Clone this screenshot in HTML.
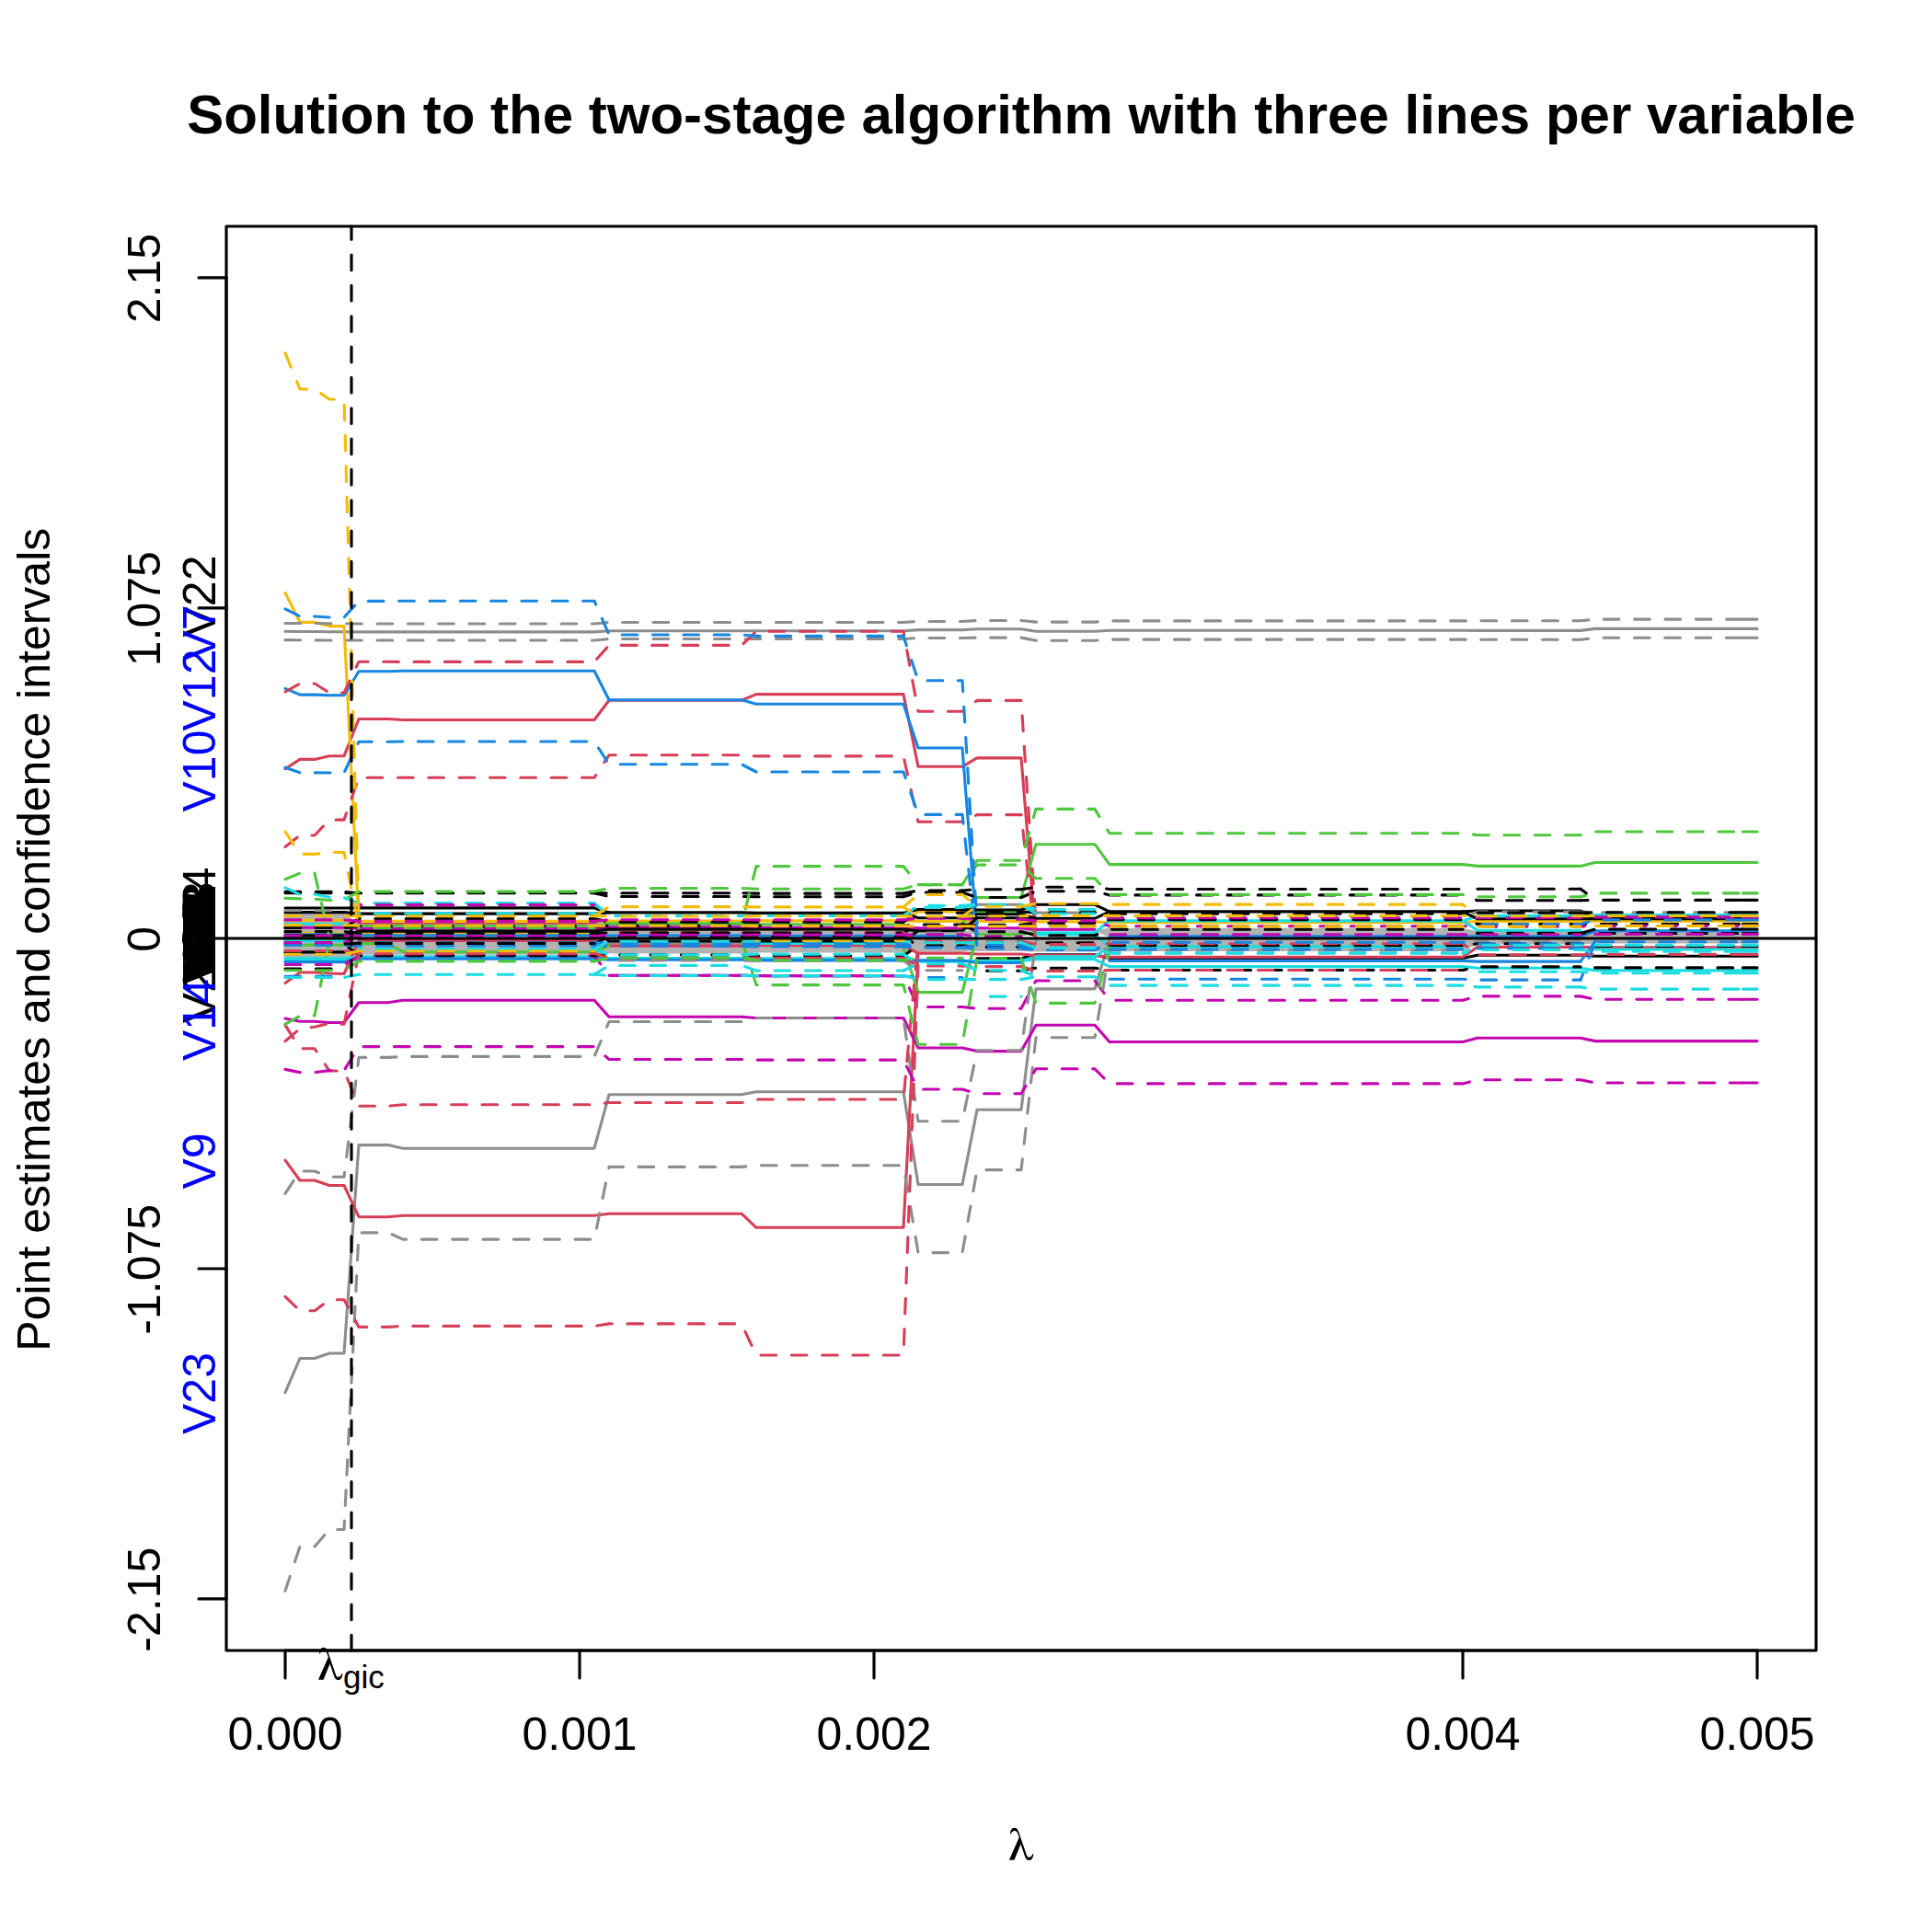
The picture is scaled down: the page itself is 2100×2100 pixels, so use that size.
<!DOCTYPE html>
<html><head><meta charset="utf-8"><title>Solution path</title>
<style>
html,body{margin:0;padding:0;background:#fff;}
body{width:2100px;height:2100px;overflow:hidden;font-family:"Liberation Sans",sans-serif;}
svg{display:block}
text{font-family:"Liberation Sans",sans-serif;font-size:50px;fill:#000}
.t{font-weight:bold;font-size:60px}
.L{fill:none;stroke-width:3.125;stroke-linecap:round;stroke-linejoin:round}
.D{stroke-dasharray:16.67 16.67}
.ax{fill:none;stroke:#000;stroke-width:3.125;stroke-linecap:round;stroke-linejoin:round}
.bl{fill:#0000FF}
</style></head><body>
<svg width="2100" height="2100" viewBox="0 0 2100 2100">
<rect x="0" y="0" width="2100" height="2100" fill="#fff"/>
<text class="t" x="1110" y="144.9" text-anchor="middle">Solution to the two-stage algorithm with three lines per variable</text>
<defs><clipPath id="cp"><rect x="246" y="246" width="1728" height="1548"/></clipPath></defs>
<g clip-path="url(#cp)">
<polygon fill="#B2B2B2" points="308.4,1019 374,1019 390,1022.7 646,1022.7 662,1023.7 806,1023.7 822,1024 982,1024 998,1021.5 1046,1021.5 1062,1021.5 1110,1021.5 1126,1021 1190,1021 1206,1021 1590,1021 1606,1021 1718,1021 1734,1021 1911.6,1021 1911.6,1025.5 1734,1025.5 1718,1026.5 1606,1026.5 1590,1034 1206,1034 1190,1034.5 1126,1034.5 1110,1034 1062,1034 1046,1034.5 998,1034.5 982,1035.6 822,1035.6 806,1036.6 662,1036.6 646,1037.8 390,1037.8 374,1041 308.4,1041"/>
<polygon fill="#B2B2B2" points="308.4,993 374,993 390,1003.4 646,1003.4 662,1011 806,1011 822,1012 982,1012 998,1012 1046,1012 1062,1011 1110,1011 1126,1011 1190,1011 1206,1008.7 1590,1008.7 1606,1012 1718,1012 1734,1012.5 1911.6,1012.5 1911.6,1019 1734,1019 1718,1019 1606,1019 1590,1019 1206,1019 1190,1012 1126,1012 1110,1015 1062,1015 1046,1016 998,1016 982,1016 822,1016 806,1015 662,1015 646,1005 390,1005 374,1020 308.4,1020"/>
<polyline class="L" stroke="#8D8D8D" points="390,1004.2 646,1004.2 662,1005.9 806,1005.9"/>
<polyline class="L" stroke="#8D8D8D" points="662,1025.4 806,1025.4"/>
<polyline class="L" stroke="#8D8D8D" points="1062,983.3 1110,983.3 1126,992.1 1190,992.1"/>
<polyline class="L" stroke="#8D8D8D" points="1126,1041.6 1190,1041.6"/>
<polyline class="L" stroke="#8D8D8D" points="310,686.3 326,686.5 342,686.5 358,686.7 374,686.7 390,686.9 646,686.9 662,685.8 982,685.8 998,684.6 1046,684.6 1062,683.8 1110,683.8 1126,686.3 1190,686.3 1206,685.3 1590,685.3 1606,685.4 1718,685.4 1734,683.4 1910,683.4"/>
<polyline class="L" stroke="#8D8D8D" points="310,1513.7 326,1476.5 342,1476.5 358,1471 374,1471 390,1244.6 422,1244.6 438,1248.2 646,1248.2 662,1189.8 806,1189.8 822,1186.7 982,1186.7 998,1287.5 1046,1287.5 1062,1206.3 1110,1206.3 1126,1074.9 1190,1074.9 1206,1021"/>
<polyline class="L" stroke="#000000" points="1062,1041.8 1110,1041.8 1126,1037.7 1190,1037.7 1206,1041.5 1590,1041.5 1606,1038.2 1718,1038.2 1734,1039.3 1910,1039.3"/>
<polyline class="L" stroke="#D73E58" points="390,1002.9 646,1002.9"/>
<polyline class="L" stroke="#D73E58" points="390,1022.5 646,1022.5 662,1028.3 806,1028.3 822,1027.8 982,1027.8 998,1036.1 1046,1036.1 1062,1037 1110,1037 1126,1038.6 1190,1038.6 1206,1040.2 1590,1040.2 1606,1029.4 1718,1029.4 1734,1029.8 1910,1029.8"/>
<polyline class="L" stroke="#D73E58" points="310,835.7 326,825.4 342,825.4 358,821.7 374,821.7 390,781.5 422,781.5 438,782.5 646,782.5 662,761.2 806,761.2 822,754.6 982,754.6 998,833.3 1046,833.3 1062,823.9 1110,823.9 1126,1019.6"/>
<polyline class="L" stroke="#D73E58" points="310,1261.2 326,1283 342,1283 358,1288.5 374,1288.5 390,1322.7 422,1322.7 438,1321.2 646,1321.2 662,1319.2 806,1319.2 822,1334.3 982,1334.3 998,1036.1"/>
<polyline class="L" stroke="#D73E58" points="310,1068.5 326,1057 342,1057 358,1058 374,1058.5 390,1022.5"/>
<polyline class="L" stroke="#F3BC09" points="310,1014.4 374,1014.4 390,1014.5 646,1014.5 662,1001"/>
<polyline class="L" stroke="#F3BC09" points="982,1000.9 998,991 1046,991 1062,1001.4"/>
<polyline class="L" stroke="#F3BC09" points="310,1000.4 374,1000.4 390,1001.4 646,1001.4 662,1001 806,1001 822,1000.9 982,1000.9 998,1001.4 1110,1001.4 1126,1001.9 1190,1001.9 1206,1002.8 1590,1002.8 1606,1001.4 1718,1001.4 1734,1001.2 1910,1001.2"/>
<polyline class="L" stroke="#F3BC09" points="310,644.3 326,676.4 342,676.4 358,680.6 374,680.6 390,1001.4"/>
<polyline class="L" stroke="#4EC73D" points="310,1027.2 374,1027.2"/>
<polyline class="L" stroke="#4EC73D" points="390,1006.8 646,1006.8 662,1003.7 806,1003.7 822,1004.7 982,1004.7"/>
<polyline class="L" stroke="#4EC73D" points="1062,991 1110,991"/>
<polyline class="L" stroke="#4EC73D" points="1046,1004.7 1062,975.5 1110,975.5 1126,917.7 1190,917.7 1206,939.6 1590,939.6 1606,941.4 1718,941.4 1734,937.5 1910,937.5"/>
<polyline class="L" stroke="#4EC73D" points="982,1030 998,1078.6 1046,1078.6 1062,1015.9 1110,1015.9 1126,1013"/>
<polyline class="L" stroke="#4EC73D" points="390,1025.6 422,1025.6 438,1034.7 646,1034.7 662,1028"/>
<polyline class="L" stroke="#C306B0" points="310,1008.2 374,1008.2 390,1009.5 646,1009.5 662,1008 806,1008 822,1008.2 982,1008.2 998,1008.7 1046,1008.7 1062,1008.9 1110,1008.9 1126,1010.2 1190,1010.2"/>
<polyline class="L" stroke="#C306B0" points="310,1107 326,1110.2 342,1110.2 358,1111.5 374,1111.5 390,1089.8 422,1089.8 438,1087.3 646,1087.3 662,1105.3 806,1105.3 822,1106.5 982,1106.5 998,1139 1046,1139 1062,1142.6 1110,1142.6 1126,1114.2 1190,1114.2 1206,1132.5 1590,1132.5 1606,1128.3 1718,1128.3 1734,1131.6 1910,1131.6"/>
<polyline class="L" stroke="#1BDCE0" points="310,1004.3 374,1004.3"/>
<polyline class="L" stroke="#1BDCE0" points="310,1022.9 374,1022.9"/>
<polyline class="L" stroke="#1BDCE0" points="310,1043.9 374,1043.9 390,1039.9"/>
<polyline class="L" stroke="#1BDCE0" points="822,1025.5 982,1025.5"/>
<polyline class="L" stroke="#1BDCE0" points="1126,1013.9 1190,1013.9 1206,1000.9"/>
<polyline class="L" stroke="#1BDCE0" points="1126,1015.9 1190,1015.9 1206,1028.9"/>
<polyline class="L" stroke="#1BDCE0" points="1110,1044.4 1126,1039.9 1190,1039.9 1206,1028.9 1590,1028.9"/>
<polyline class="L" stroke="#1BDCE0" points="1590,1000.9 1606,1011.3 1718,1011.3"/>
<polyline class="L" stroke="#1BDCE0" points="1190,1013.9 1206,1000.9 1590,1000.9 1606,995.4 1718,995.4 1734,994.5 1910,994.5"/>
<polyline class="L" stroke="#1BDCE0" points="310,1041.9 374,1041.9 390,1039.9 646,1039.9 662,1041.5 806,1041.5 822,1041.8 982,1041.8 998,1045.1 1046,1045.1 1062,1044.4 1110,1044.4 1126,1042.8 1190,1042.8 1206,1050.6 1590,1050.6 1606,1052.2 1718,1052.2 1734,1054.9 1910,1054.9"/>
<polyline class="L" stroke="#1BDCE0" points="1734,1032 1910,1032"/>
<polyline class="L" stroke="#1686E1" points="310,1015.7 374,1015.7 390,1016.7 806,1016.7 822,1017.2 982,1017.2 998,1017.5 1046,1017.5"/>
<polyline class="L" stroke="#1686E1" points="310,1045.6 374,1045.6 390,1042.1 646,1042.1 662,1043.2 806,1043.2 822,1043.9 1046,1043.9 1062,1046.5 1110,1046.5"/>
<polyline class="L" stroke="#1686E1" points="1206,1044.4 1590,1044.4 1606,1045.1 1718,1045.1"/>
<polyline class="L" stroke="#1686E1" points="1206,1017.7 1590,1017.7 1606,1017.8 1718,1017.8 1734,1011.7 1910,1011.7"/>
<polyline class="L" stroke="#1686E1" points="310,748.4 326,755.1 342,755.1 358,755.8 374,755.8 390,729.7 422,729.7 438,729.3 646,729.3 662,760.8 806,760.8 822,765.3 982,765.3 998,813 1046,813 1062,1016"/>
<polyline class="L" stroke="#1686E1" points="1718,1045.1 1734,1022.8"/>
<polyline class="L" stroke="#000000" points="310,1034.9 374,1034.9"/>
<polyline class="L" stroke="#000000" points="310,987 374,987 390,986.9 646,986.9 662,991.9"/>
<polyline class="L" stroke="#000000" points="646,1012.1 662,1023 806,1023 822,1022.9 982,1022.9 998,1011.8"/>
<polyline class="L" stroke="#000000" points="310,1017 374,1017 390,1012.1 646,1012.1 662,1010.1 806,1010.1 822,1010.2 982,1010.2 998,1011.8 1046,1011.8 1062,997.8"/>
<polyline class="L" stroke="#000000" points="1046,997.8 1062,993.7 1110,993.7 1126,998.3"/>
<polyline class="L" stroke="#000000" points="310,991.6 374,991.6 390,993.1 646,993.1 662,991.9 806,991.9 822,992.4 982,992.4 998,988.5 1046,988.5 1062,989 1110,989 1126,983.3 1190,983.3 1206,990.9"/>
<polyline class="L" stroke="#000000" points="982,992.4 998,997.8 1110,997.8 1126,998.3 1190,998.3 1206,990.9 1590,990.9 1606,990 1718,990 1734,998.6"/>
<polyline class="L" stroke="#000000" points="1590,990.9 1606,998.8 1718,998.8 1734,998.6 1910,998.6"/>
<polyline class="L D" stroke="#D73E58" stroke-dashoffset="21.6" points="662,1013.6 806,1013.6"/>
<polyline class="L D" stroke="#D73E58" stroke-dashoffset="32.2" points="806,1013.6 822,1013.7 982,1013.7"/>
<polyline class="L" stroke="#C306B0" points="662,1060.3 806,1060.3 822,1060.6 982,1060.6"/>
<polyline class="L" stroke="#C306B0" points="1894.3,1086.2 1910,1086.2"/>
<polyline class="L D" stroke="#C306B0" points="310,1048.5 374,1048.5 390,1038.8 646,1038.8 662,1060.2 806,1060.2 822,1060.6 982,1060.6 998,1094.5 1046,1094.5 1062,1096.2 1110,1096.2 1126,1066 1190,1066 1206,1087.3 1590,1087.3 1606,1082.9 1718,1082.9 1734,1086.2 1894,1086.2"/>
<polyline class="L D" stroke="#8D8D8D" points="310,989.8 374,989.8"/>
<polyline class="L D" stroke="#8D8D8D" stroke-dashoffset="22.1" points="662,1044 806,1044"/>
<polyline class="L D" stroke="#8D8D8D" stroke-dashoffset="29.7" points="806,1044 822,1044.3 982,1044.3"/>
<polyline class="L D" stroke="#8D8D8D" stroke-dashoffset="5.3" points="982,1044.3 998,1054.7 1046,1054.7"/>
<polyline class="L D" stroke="#8D8D8D" stroke-dashoffset="24.6" points="998,1014 1046,1014"/>
<polyline class="L D" stroke="#8D8D8D" stroke-dashoffset="16.7" points="1126,1028.3 1190,1028.3"/>
<polyline class="L D" stroke="#8D8D8D" stroke-dashoffset="21.7" points="1190,1028.3 1206,1033 1590,1033"/>
<polyline class="L D" stroke="#8D8D8D" stroke-dashoffset="20.1" points="1590,1033 1606,1023.2 1718,1023.2"/>
<polyline class="L D" stroke="#8D8D8D" stroke-dashoffset="3.5" points="1206,997 1590,997"/>
<polyline class="L D" stroke="#8D8D8D" stroke-dashoffset="21.8" points="1590,997 1606,991.1 1718,991.1"/>
<polyline class="L" stroke="#8D8D8D" points="1894.3,991.7 1910,991.7"/>
<polyline class="L D" stroke="#8D8D8D" stroke-dashoffset="9.7" points="1718,991.1 1734,991.7 1894,991.7"/>
<polyline class="L" stroke="#8D8D8D" points="1894.3,673.1 1910,673.1"/>
<polyline class="L D" stroke="#8D8D8D" points="310,677.5 342,677.5 358,677.7 374,677.7 390,678 646,678 662,676.5 982,676.5 998,675.5 1046,675.5 1062,674.5 1110,674.5 1126,676.1 1190,676.1 1206,674.9 1590,674.9 1606,674.8 1718,674.8 1734,673.1 1894,673.1"/>
<polyline class="L" stroke="#8D8D8D" points="1894.3,693.3 1910,693.3"/>
<polyline class="L D" stroke="#8D8D8D" points="310,695.6 326,695.8 342,695.8 358,696 646,696 662,694.5 982,694.5 998,693.5 1046,693.5 1062,693.1 1110,693.1 1126,696.2 1190,696.2 1206,695.1 1590,695.1 1606,695.3 1718,695.3 1734,693.3 1894,693.3"/>
<polyline class="L D" stroke="#8D8D8D" points="310,1297.4 326,1273 342,1273 358,1279.2 374,1279.2 390,1149.4 422,1149.4 438,1148.4 646,1148.4 662,1110.5 806,1110.5 822,1106.5 982,1106.5 998,1218.8 1046,1218.8 1062,1141.7 1110,1141.7 1126,1023"/>
<polyline class="L D" stroke="#8D8D8D" points="310,1729.2 326,1681 342,1681 358,1662.5 374,1662.5 390,1339.9 422,1339.9 438,1347.1 646,1347.1 662,1268.4 806,1268.4 822,1266.8 982,1266.8 998,1361.6 1046,1361.6 1062,1271.6 1110,1271.6 1126,1127.7 1190,1127.7 1206,1033"/>
<polyline class="L D" stroke="#000000" points="310,969.4 374,969.4"/>
<polyline class="L D" stroke="#000000" stroke-dashoffset="31.3" points="374,969.4 390,970.7"/>
<polyline class="L D" stroke="#000000" points="310,1053 374,1053"/>
<polyline class="L D" stroke="#000000" points="310,1012.6 374,1012.6"/>
<polyline class="L D" stroke="#000000" stroke-dashoffset="31.9" points="374,1012.6 390,1014.2 646,1014.2"/>
<polyline class="L D" stroke="#000000" stroke-dashoffset="3.7" points="646,1014.2 662,1014 806,1014"/>
<polyline class="L D" stroke="#000000" stroke-dashoffset="30.7" points="806,1014 822,1014.1 982,1014.1"/>
<polyline class="L D" stroke="#000000" stroke-dashoffset="11.1" points="982,1014.1 998,1005"/>
<polyline class="L D" stroke="#000000" stroke-dashoffset="27" points="374,1026.1 390,1038.6 646,1038.6"/>
<polyline class="L D" stroke="#000000" stroke-dashoffset="5.6" points="646,1038.6 662,1037.9 806,1037.9"/>
<polyline class="L D" stroke="#000000" stroke-dashoffset="31.3" points="806,1037.9 822,1039 982,1039"/>
<polyline class="L D" stroke="#000000" stroke-dashoffset="7.9" points="982,1039 998,1027.8"/>
<polyline class="L D" stroke="#000000" stroke-dashoffset="3.4" points="1110,1005.3 1126,1003.3 1190,1003.3"/>
<polyline class="L D" stroke="#000000" stroke-dashoffset="18.5" points="1190,1003.3 1206,999.6 1590,999.6"/>
<polyline class="L D" stroke="#000000" stroke-dashoffset="17.7" points="1590,999.6 1606,1004.5"/>
<polyline class="L D" stroke="#000000" points="310,970.6 374,970.6"/>
<polyline class="L D" stroke="#000000" stroke-dashoffset="31.5" points="374,970.6 390,970.7 806,970.7"/>
<polyline class="L D" stroke="#000000" stroke-dashoffset="31.3" points="806,970.7 822,971.1 982,971.1"/>
<polyline class="L D" stroke="#000000" stroke-dashoffset="5" points="982,971.1 998,968 1046,968"/>
<polyline class="L D" stroke="#000000" stroke-dashoffset="8.2" points="1046,968 1062,966.7 1110,966.7"/>
<polyline class="L D" stroke="#000000" stroke-dashoffset="5.3" points="1110,966.7 1126,964.2 1190,964.2"/>
<polyline class="L D" stroke="#000000" stroke-dashoffset="20.7" points="1190,964.2 1206,966.5 1590,966.5"/>
<polyline class="L D" stroke="#000000" stroke-dashoffset="17.4" points="1590,966.5 1606,966.2 1718,966.2"/>
<polyline class="L D" stroke="#000000" stroke-dashoffset="8.7" points="1718,966.2 1734,978.4"/>
<polyline class="L D" stroke="#000000" stroke-dashoffset="3.3" points="646,970.7 662,974.5 806,974.5"/>
<polyline class="L D" stroke="#000000" stroke-dashoffset="31" points="806,974.5 822,974.7 982,974.7"/>
<polyline class="L D" stroke="#000000" stroke-dashoffset="8.3" points="982,974.7 998,970 1046,970"/>
<polyline class="L D" stroke="#000000" stroke-dashoffset="2.1" points="1046,970 1062,975.5 1110,975.5"/>
<polyline class="L D" stroke="#000000" stroke-dashoffset="2.5" points="1110,975.5 1126,968.8 1190,968.8"/>
<polyline class="L D" stroke="#000000" stroke-dashoffset="22.2" points="1190,968.8 1206,972.9 1590,972.9"/>
<polyline class="L D" stroke="#000000" stroke-dashoffset="17.9" points="1590,972.9 1606,978.7 1718,978.7"/>
<polyline class="L" stroke="#000000" points="1894.3,978.4 1910,978.4"/>
<polyline class="L D" stroke="#000000" stroke-dashoffset="8.7" points="1718,978.7 1734,978.4 1894,978.4"/>
<polyline class="L D" stroke="#000000" stroke-dashoffset="30" points="374,1008.4 390,998.5 646,998.5"/>
<polyline class="L D" stroke="#000000" stroke-dashoffset="5" points="646,998.5 662,1002.2 982,1002.2"/>
<polyline class="L D" stroke="#000000" stroke-dashoffset="5.5" points="982,1002.2 998,992.1 1046,992.1"/>
<polyline class="L D" stroke="#000000" stroke-dashoffset="6.4" points="1046,992.1 1062,991 1110,991"/>
<polyline class="L D" stroke="#000000" stroke-dashoffset="2.1" points="1110,991 1126,991.9 1190,991.9"/>
<polyline class="L D" stroke="#000000" stroke-dashoffset="16.3" points="1190,991.9 1206,993.1 1590,993.1"/>
<polyline class="L D" stroke="#000000" stroke-dashoffset="17.1" points="1590,993.1 1606,992.1 1718,992.1"/>
<polyline class="L" stroke="#000000" points="1894.3,991.7 1910,991.7"/>
<polyline class="L D" stroke="#000000" stroke-dashoffset="4.8" points="1718,992.1 1734,991.7 1894,991.7"/>
<polyline class="L D" stroke="#000000" points="310,1008.4 374,1008.4"/>
<polyline class="L D" stroke="#000000" stroke-dashoffset="31.9" points="374,1008.4 390,1006.8 646,1006.8"/>
<polyline class="L D" stroke="#000000" stroke-dashoffset="2.7" points="646,1006.8 662,1006.3 806,1006.3"/>
<polyline class="L D" stroke="#000000" stroke-dashoffset="29.7" points="806,1006.3 822,1006.4 982,1006.4"/>
<polyline class="L D" stroke="#000000" stroke-dashoffset="11" points="982,1006.4 998,1005 1046,1005"/>
<polyline class="L D" stroke="#000000" stroke-dashoffset="3.9" points="1046,1005 1062,1005.3 1110,1005.3"/>
<polyline class="L D" stroke="#000000" stroke-dashoffset="1.5" points="1110,1005.3 1126,1006.6 1190,1006.6"/>
<polyline class="L D" stroke="#000000" stroke-dashoffset="17.3" points="1190,1006.6 1206,1006.8 1590,1006.8"/>
<polyline class="L" stroke="#000000" points="1894.3,1004.5 1910,1004.5"/>
<polyline class="L D" stroke="#000000" stroke-dashoffset="16.2" points="1590,1006.8 1606,1004.5 1894,1004.5"/>
<polyline class="L D" stroke="#000000" stroke-dashoffset="2.5" points="1046,1005 1062,1012.8 1110,1012.8"/>
<polyline class="L D" stroke="#000000" stroke-dashoffset="2.1" points="1110,1012.8 1126,1016.7 1190,1016.7"/>
<polyline class="L D" stroke="#000000" stroke-dashoffset="13.6" points="1190,1016.7 1206,1010.2 1590,1010.2"/>
<polyline class="L D" stroke="#000000" stroke-dashoffset="17.4" points="1590,1010.2 1606,1014.4 1718,1014.4"/>
<polyline class="L" stroke="#000000" points="1894.3,1014.5 1910,1014.5"/>
<polyline class="L D" stroke="#000000" stroke-dashoffset="12.8" points="1718,1014.4 1734,1014.5 1894,1014.5"/>
<polyline class="L D" stroke="#000000" points="310,1026.1 374,1026.1"/>
<polyline class="L D" stroke="#000000" stroke-dashoffset="4.5" points="646,1025.4 662,1018.4 806,1018.4"/>
<polyline class="L D" stroke="#000000" stroke-dashoffset="32.9" points="806,1018.4 822,1018.5 982,1018.5"/>
<polyline class="L D" stroke="#000000" stroke-dashoffset="5.4" points="982,1018.5 998,1027.8 1046,1027.8"/>
<polyline class="L D" stroke="#000000" stroke-dashoffset="6.9" points="1046,1027.8 1062,1029.4 1110,1029.4"/>
<polyline class="L D" stroke="#000000" stroke-dashoffset="4.8" points="1110,1029.4 1126,1024.7 1190,1024.7"/>
<polyline class="L D" stroke="#000000" stroke-dashoffset="17.1" points="1190,1024.7 1206,1027.8 1590,1027.8"/>
<polyline class="L D" stroke="#000000" stroke-dashoffset="20.6" points="1590,1027.8 1606,1025.8 1718,1025.8"/>
<polyline class="L" stroke="#000000" points="1894.3,1028.4 1910,1028.4"/>
<polyline class="L D" stroke="#000000" stroke-dashoffset="16.9" points="1718,1025.8 1734,1028.4 1894,1028.4"/>
<polyline class="L D" stroke="#000000" stroke-dashoffset="22.9" points="1062,1055.3 1110,1055.3"/>
<polyline class="L D" stroke="#000000" stroke-dashoffset="0.8" points="1110,1055.3 1126,1052.2 1190,1052.2"/>
<polyline class="L D" stroke="#000000" stroke-dashoffset="13.5" points="1190,1052.2 1206,1054.5 1590,1054.5"/>
<polyline class="L D" stroke="#000000" stroke-dashoffset="12.3" points="1590,1054.5 1606,1050.9 1718,1050.9"/>
<polyline class="L" stroke="#000000" points="1894.3,1051.9 1910,1051.9"/>
<polyline class="L D" stroke="#000000" stroke-dashoffset="17.7" points="1718,1050.9 1734,1051.9 1894,1051.9"/>
<polyline class="L" stroke="#000000" points="1894.3,1010 1910,1010"/>
<polyline class="L D" stroke="#000000" stroke-dashoffset="1.2" points="1718,1014.4 1734,1010 1894,1010"/>
<polyline class="L D" stroke="#D73E58" points="310,1033.5 374,1033.5"/>
<polyline class="L D" stroke="#D73E58" stroke-dashoffset="31.8" points="374,1033.5 390,1036.6 646,1036.6"/>
<polyline class="L D" stroke="#D73E58" stroke-dashoffset="3.1" points="646,1036.6 662,1041.3 982,1041.3"/>
<polyline class="L D" stroke="#D73E58" stroke-dashoffset="4.5" points="982,1041.3 998,1049.9 1046,1049.9"/>
<polyline class="L D" stroke="#D73E58" stroke-dashoffset="7.4" points="1046,1049.9 1062,1050.6 1110,1050.6"/>
<polyline class="L D" stroke="#D73E58" stroke-dashoffset="3.8" points="1110,1050.6 1126,1055.5 1190,1055.5"/>
<polyline class="L D" stroke="#D73E58" stroke-dashoffset="22.6" points="1190,1055.5 1206,1054.5 1590,1054.5"/>
<polyline class="L D" stroke="#D73E58" stroke-dashoffset="6.3" points="982,1013.7 998,1023.2 1110,1023.2"/>
<polyline class="L D" stroke="#D73E58" stroke-dashoffset="1.3" points="1110,1023.2 1126,1026.5 1190,1026.5"/>
<polyline class="L D" stroke="#D73E58" stroke-dashoffset="20.1" points="1190,1026.5 1206,1025.8 1590,1025.8"/>
<polyline class="L D" stroke="#D73E58" stroke-dashoffset="11.2" points="1590,1025.8 1606,1037.7 1718,1037.7"/>
<polyline class="L" stroke="#D73E58" points="1894.3,1037.4 1910,1037.4"/>
<polyline class="L D" stroke="#D73E58" stroke-dashoffset="3.3" points="1718,1037.7 1734,1037.4 1894,1037.4"/>
<polyline class="L D" stroke="#D73E58" points="310,752 326,743 342,743 358,753 374,753 390,719.2 422,719.2 438,719.4 646,719.4 662,701.4 806,701.4 822,686.3 982,686.3 998,773.2 1046,773.2 1062,761.4 1110,761.4 1126,1003"/>
<polyline class="L D" stroke="#D73E58" points="310,920.6 326,908 342,908 358,891.1 374,891.1 390,845.2 422,845.2 438,845.3 646,845.3 662,820.8 806,820.8 822,821.9 982,821.9 998,893.3 1046,893.3 1062,885.6 1110,885.6 1126,1026.5"/>
<polyline class="L D" stroke="#D73E58" points="310,1114.2 326,1139.8 342,1139.8 358,1164 374,1164 390,1202.2 422,1202.2 438,1200.7 646,1200.7 662,1198.5 806,1198.5 822,1195 982,1195 998,1023.2"/>
<polyline class="L D" stroke="#D73E58" points="310,1409.3 326,1424.8 342,1424.8 358,1412.8 374,1412.8 390,1442.4 422,1442.4 438,1441.4 646,1441.4 662,1438.9 806,1438.9 822,1473 982,1473 998,1049.9"/>
<polyline class="L D" stroke="#D73E58" points="310,1131.8 326,1118 342,1116.3 358,1112.5 374,1113.2 390,1036.6"/>
<polyline class="L D" stroke="#4EC73D" stroke-dashoffset="16.3" points="390,1008.8 646,1008.8"/>
<polyline class="L D" stroke="#4EC73D" points="310,1054.8 374,1054.8"/>
<polyline class="L D" stroke="#4EC73D" stroke-dashoffset="28.5" points="374,1054.8 390,1044.9 646,1044.9"/>
<polyline class="L D" stroke="#4EC73D" stroke-dashoffset="2.7" points="646,1044.9 662,1041.1 806,1041.1"/>
<polyline class="L D" stroke="#4EC73D" stroke-dashoffset="30" points="806,1041.1 822,1043.7 982,1043.7"/>
<polyline class="L D" stroke="#4EC73D" stroke-dashoffset="6.8" points="982,1043.7 998,1041.3 1046,1041.3"/>
<polyline class="L D" stroke="#4EC73D" stroke-dashoffset="19.1" points="1126,988.5 1190,988.5"/>
<polyline class="L D" stroke="#4EC73D" points="310,955.7 326,949.1 342,949 358,1019"/>
<polyline class="L D" stroke="#4EC73D" points="310,1113.2 326,1104.5 342,1103.9 358,1022"/>
<polyline class="L" stroke="#4EC73D" points="1894.3,904 1910,904"/>
<polyline class="L D" stroke="#4EC73D" points="310,976.4 326,976.9 342,977.3 358,978.5 374,978.2 390,969.1 646,969.1 662,965.5 806,965.5 822,966.2 982,966.2 998,961.6 1046,961.6 1062,935.2 1110,935.2 1126,879.4 1190,879.4 1206,905.7 1590,905.7 1606,907.7 1718,907.7 1734,904 1894,904"/>
<polyline class="L" stroke="#4EC73D" points="1894.3,970.9 1910,970.9"/>
<polyline class="L D" stroke="#4EC73D" stroke-dashoffset="16.1" points="806,1004.5 822,941.6 982,941.6 998,961.6 1046,961.6 1062,940.1 1110,940.1 1126,954.8 1190,954.8 1206,972.4 1590,972.4 1606,974.7 1718,974.7 1734,970.9 1894,970.9"/>
<polyline class="L D" stroke="#4EC73D" stroke-dashoffset="29.2" points="806,1020 822,1070.6 982,1070.6 998,1135.3 1046,1135.3 1062,1041.6 1110,1041.6 1126,1090.4 1190,1090.4 1206,1030"/>
<polyline class="L D" stroke="#1686E1" points="310,1061.3 374,1061.3"/>
<polyline class="L D" stroke="#1686E1" stroke-dashoffset="31.7" points="374,1027.4 390,1024.6 646,1024.6"/>
<polyline class="L D" stroke="#1686E1" stroke-dashoffset="2.9" points="646,1024.6 662,1025.4 806,1025.4"/>
<polyline class="L D" stroke="#1686E1" stroke-dashoffset="30.8" points="806,1025.4 822,1025.8 982,1025.8"/>
<polyline class="L D" stroke="#1686E1" stroke-dashoffset="9.5" points="982,1025.8 998,1029.9"/>
<polyline class="L D" stroke="#1686E1" stroke-dashoffset="14.9" points="822,1060.8 982,1060.8"/>
<polyline class="L D" stroke="#1686E1" stroke-dashoffset="5.8" points="982,1060.8 998,1062.5 1046,1062.5"/>
<polyline class="L D" stroke="#1686E1" stroke-dashoffset="6" points="1046,1029.9 1062,1027.3 1110,1027.3"/>
<polyline class="L D" stroke="#1686E1" stroke-dashoffset="4.8" points="1110,1027.3 1126,1032.5"/>
<polyline class="L D" stroke="#1686E1" points="310,1027.4 374,1027.4"/>
<polyline class="L D" stroke="#1686E1" stroke-dashoffset="31.2" points="374,1027.4 390,1028 646,1028"/>
<polyline class="L D" stroke="#1686E1" stroke-dashoffset="4.3" points="646,1028 662,1028.3 806,1028.3"/>
<polyline class="L D" stroke="#1686E1" stroke-dashoffset="32.8" points="806,1028.3 822,1028.9 982,1028.9"/>
<polyline class="L D" stroke="#1686E1" stroke-dashoffset="9.5" points="982,1028.9 998,1029.9 1046,1029.9"/>
<polyline class="L D" stroke="#1686E1" stroke-dashoffset="5.6" points="1046,1029.9 1062,1030.9 1110,1030.9"/>
<polyline class="L D" stroke="#1686E1" stroke-dashoffset="4.7" points="1110,1030.9 1126,1032.5 1190,1032.5"/>
<polyline class="L D" stroke="#1686E1" stroke-dashoffset="17" points="1190,1032.5 1206,1032 1590,1032"/>
<polyline class="L D" stroke="#1686E1" stroke-dashoffset="17" points="1590,1032 1606,1030.9 1718,1030.9"/>
<polyline class="L D" stroke="#1686E1" stroke-dashoffset="14.4" points="1718,1030.9 1734,1023.8"/>
<polyline class="L D" stroke="#1686E1" stroke-dashoffset="1.3" points="1206,1064.3 1590,1064.3"/>
<polyline class="L D" stroke="#1686E1" stroke-dashoffset="13.4" points="1590,1064.3 1606,1065.1 1718,1065.1"/>
<polyline class="L D" stroke="#1686E1" stroke-dashoffset="28.4" points="1606,1004.5 1718,1004.5"/>
<polyline class="L" stroke="#1686E1" points="1894.3,999.9 1910,999.9"/>
<polyline class="L D" stroke="#1686E1" stroke-dashoffset="7.6" points="1718,1004.5 1734,999.9 1894,999.9"/>
<polyline class="L D" stroke="#1686E1" stroke-dashoffset="11.8" points="1190,1032.5 1206,1024.2 1590,1024.2"/>
<polyline class="L D" stroke="#1686E1" stroke-dashoffset="15.4" points="1590,1024.2 1606,1025.8 1718,1025.8"/>
<polyline class="L" stroke="#1686E1" points="1894.3,1023.8 1910,1023.8"/>
<polyline class="L D" stroke="#1686E1" stroke-dashoffset="14.2" points="1718,1025.8 1734,1023.8 1894,1023.8"/>
<polyline class="L D" stroke="#1686E1" points="310,661.9 326,670 342,670 358,671 374,671 390,653.4 422,653.4 438,653.2 646,653.2 662,690 806,690 822,691.4 982,691.4 998,739.7 1046,739.7 1062,1004.5"/>
<polyline class="L D" stroke="#1686E1" points="310,834.2 326,839.9 342,839.9 358,840 374,840 390,806.2 422,806.2 438,806 646,806 662,830.8 806,830.8 822,839 982,839 998,885.4 1046,885.4 1062,1027.3"/>
<polyline class="L D" stroke="#1686E1" stroke-dashoffset="7.7" points="1718,1065.1 1734,1023.8"/>
<polyline class="L D" stroke="#1BDCE0" stroke-dashoffset="16.2" points="390,981.7 646,981.7"/>
<polyline class="L D" stroke="#1BDCE0" stroke-dashoffset="3.4" points="646,981.7 662,995.6"/>
<polyline class="L D" stroke="#1BDCE0" stroke-dashoffset="14.4" points="390,1031.6 646,1031.6"/>
<polyline class="L D" stroke="#1BDCE0" stroke-dashoffset="2.7" points="646,1031.6 662,1037.7 806,1037.7"/>
<polyline class="L D" stroke="#1BDCE0" stroke-dashoffset="32.5" points="806,1037.7 822,1037.1 982,1037.1"/>
<polyline class="L D" stroke="#1BDCE0" stroke-dashoffset="6.7" points="982,1037.1 998,1047.5"/>
<polyline class="L D" stroke="#1BDCE0" stroke-dashoffset="15.9" points="390,992.7 646,992.7"/>
<polyline class="L D" stroke="#1BDCE0" stroke-dashoffset="10.3" points="646,992.7 662,995.6 806,995.6"/>
<polyline class="L D" stroke="#1BDCE0" stroke-dashoffset="3.9" points="806,995.6 822,995.4 982,995.4"/>
<polyline class="L D" stroke="#1BDCE0" stroke-dashoffset="7.3" points="982,995.4 998,986.4 1046,986.4"/>
<polyline class="L D" stroke="#1BDCE0" stroke-dashoffset="4" points="1046,986.4 1062,983.3"/>
<polyline class="L D" stroke="#1BDCE0" stroke-dashoffset="3" points="646,1059.2 662,1049.4 806,1049.4"/>
<polyline class="L D" stroke="#1BDCE0" stroke-dashoffset="29.6" points="806,1049.4 822,1055 982,1055"/>
<polyline class="L D" stroke="#1BDCE0" stroke-dashoffset="5" points="982,1055 998,1047.5 1046,1047.5"/>
<polyline class="L D" stroke="#1BDCE0" stroke-dashoffset="1.4" points="1046,1047.5 1062,1054.7 1110,1054.7"/>
<polyline class="L D" stroke="#1BDCE0" stroke-dashoffset="4.3" points="1110,1054.7 1126,1061.7"/>
<polyline class="L D" stroke="#1BDCE0" stroke-dashoffset="19" points="1062,1083.1 1110,1083.1"/>
<polyline class="L D" stroke="#1BDCE0" stroke-dashoffset="2" points="982,995.4 998,984.3 1046,984.3"/>
<polyline class="L D" stroke="#1BDCE0" stroke-dashoffset="3.9" points="1046,984.3 1062,983.3 1110,983.3"/>
<polyline class="L D" stroke="#1BDCE0" stroke-dashoffset="1.7" points="1110,983.3 1126,988.5 1190,988.5"/>
<polyline class="L D" stroke="#1BDCE0" stroke-dashoffset="31.5" points="1110,983.3 1126,993.1 1190,993.1"/>
<polyline class="L D" stroke="#1BDCE0" stroke-dashoffset="9" points="1590,1036.1 1606,1027.5 1718,1027.5"/>
<polyline class="L" stroke="#1BDCE0" points="1894.3,1027.4 1910,1027.4"/>
<polyline class="L D" stroke="#1BDCE0" stroke-dashoffset="17.5" points="1718,1027.5 1734,1027.4 1894,1027.4"/>
<polyline class="L D" stroke="#1BDCE0" stroke-dashoffset="2.4" points="646,1031.6 662,1023.1 806,1023.1"/>
<polyline class="L D" stroke="#1BDCE0" stroke-dashoffset="30.5" points="806,1023.1 822,1022.9 982,1022.9"/>
<polyline class="L D" stroke="#1BDCE0" stroke-dashoffset="9.7" points="982,1022.9 998,1024.7 1046,1024.7"/>
<polyline class="L D" stroke="#1BDCE0" stroke-dashoffset="5.7" points="1046,1024.7 1062,1024.4 1110,1024.4"/>
<polyline class="L D" stroke="#1BDCE0" stroke-dashoffset="1.1" points="1110,1024.4 1126,1030.4 1190,1030.4"/>
<polyline class="L D" stroke="#1BDCE0" stroke-dashoffset="21.9" points="1190,1030.4 1206,1036.1 1590,1036.1"/>
<polyline class="L D" stroke="#1BDCE0" stroke-dashoffset="11.4" points="1590,1036.1 1606,1032.5 1718,1032.5"/>
<polyline class="L" stroke="#1BDCE0" points="1894.3,1034.2 1910,1034.2"/>
<polyline class="L D" stroke="#1BDCE0" stroke-dashoffset="9.1" points="1718,1032.5 1734,1034.2 1894,1034.2"/>
<polyline class="L D" stroke="#1BDCE0" stroke-dashoffset="31.1" points="1606,1056.3 1718,1056.3"/>
<polyline class="L" stroke="#1BDCE0" points="1894.3,1057.7 1910,1057.7"/>
<polyline class="L D" stroke="#1BDCE0" stroke-dashoffset="9.7" points="1718,1056.3 1734,1057.7 1894,1057.7"/>
<polyline class="L D" stroke="#1BDCE0" points="310,1062.5 374,1062.5"/>
<polyline class="L D" stroke="#1BDCE0" stroke-dashoffset="32.5" points="374,1062.5 390,1059.2 646,1059.2"/>
<polyline class="L D" stroke="#1BDCE0" stroke-dashoffset="5.3" points="646,1059.2 662,1060.4 806,1060.4"/>
<polyline class="L D" stroke="#1BDCE0" stroke-dashoffset="32.7" points="806,1060.4 822,1060.6 982,1060.6"/>
<polyline class="L D" stroke="#1BDCE0" stroke-dashoffset="5.3" points="982,1060.6 998,1064.6 1110,1064.6"/>
<polyline class="L D" stroke="#1BDCE0" stroke-dashoffset="4" points="1110,1064.6 1126,1061.7 1190,1061.7"/>
<polyline class="L D" stroke="#1BDCE0" stroke-dashoffset="13.9" points="1190,1061.7 1206,1071.1 1590,1071.1"/>
<polyline class="L D" stroke="#1BDCE0" stroke-dashoffset="20.4" points="1590,1071.1 1606,1072.9 1718,1072.9"/>
<polyline class="L" stroke="#1BDCE0" points="1894.3,1075.1 1910,1075.1"/>
<polyline class="L D" stroke="#1BDCE0" stroke-dashoffset="11.2" points="1718,1072.9 1734,1075.1 1894,1075.1"/>
<polyline class="L D" stroke="#1BDCE0" points="310,964.8 326,972.3 342,972 358,975.2 374,975.6 390,981.7 646,981.7 662,995.6"/>
<polyline class="L D" stroke="#C306B0" points="310,1024.6 374,1024.6"/>
<polyline class="L D" stroke="#C306B0" stroke-dashoffset="32.6" points="374,1024.6 390,1017.5"/>
<polyline class="L D" stroke="#C306B0" stroke-dashoffset="13.9" points="390,983.6 646,983.6"/>
<polyline class="L D" stroke="#C306B0" points="310,1017 374,1017"/>
<polyline class="L D" stroke="#C306B0" stroke-dashoffset="32.6" points="374,1017 390,1017.5 646,1017.5"/>
<polyline class="L D" stroke="#C306B0" stroke-dashoffset="5.3" points="646,1017.5 662,1016.3 806,1016.3"/>
<polyline class="L D" stroke="#C306B0" stroke-dashoffset="31.3" points="806,1016.3 822,1016.1 982,1016.1"/>
<polyline class="L D" stroke="#C306B0" stroke-dashoffset="7.3" points="982,1016.1 998,1015.9 1046,1015.9"/>
<polyline class="L D" stroke="#C306B0" stroke-dashoffset="7.8" points="1046,1015.9 1062,1017.8 1110,1017.8"/>
<polyline class="L D" stroke="#C306B0" points="310,999.9 374,999.9"/>
<polyline class="L D" stroke="#C306B0" stroke-dashoffset="32.4" points="374,999.9 390,1001.4 646,1001.4"/>
<polyline class="L D" stroke="#C306B0" stroke-dashoffset="3.4" points="646,1001.4 662,999.7 806,999.7"/>
<polyline class="L D" stroke="#C306B0" stroke-dashoffset="30.8" points="806,999.7 822,999.9 982,999.9"/>
<polyline class="L D" stroke="#C306B0" stroke-dashoffset="5.7" points="982,999.9 998,998.3 1046,998.3"/>
<polyline class="L D" stroke="#C306B0" stroke-dashoffset="7.5" points="1046,998.3 1062,999.2 1110,999.2"/>
<polyline class="L D" stroke="#C306B0" stroke-dashoffset="1" points="1110,999.2 1126,1000.9 1190,1000.9"/>
<polyline class="L D" stroke="#C306B0" stroke-dashoffset="18.8" points="1190,1000.9 1206,997.8 1718,997.8"/>
<polyline class="L" stroke="#C306B0" points="1894.3,996.9 1910,996.9"/>
<polyline class="L D" stroke="#C306B0" stroke-dashoffset="17.6" points="1718,997.8 1734,996.9 1894,996.9"/>
<polyline class="L D" stroke="#C306B0" stroke-dashoffset="20.9" points="1190,1000.9 1206,1006.7 1590,1006.7"/>
<polyline class="L D" stroke="#C306B0" stroke-dashoffset="13.4" points="1590,1006.7 1606,1007.1 1718,1007.1"/>
<polyline class="L" stroke="#C306B0" points="1894.3,1006.4 1910,1006.4"/>
<polyline class="L D" stroke="#C306B0" stroke-dashoffset="12.4" points="1718,1007.1 1734,1006.4 1894,1006.4"/>
<polyline class="L D" stroke="#C306B0" stroke-dashoffset="32.4" points="1206,1015.9 1590,1015.9"/>
<polyline class="L D" stroke="#C306B0" stroke-dashoffset="13" points="1590,1015.9 1606,1015.7 1718,1015.7"/>
<polyline class="L" stroke="#C306B0" points="1894.3,1015.4 1910,1015.4"/>
<polyline class="L D" stroke="#C306B0" stroke-dashoffset="17.4" points="1718,1015.7 1734,1015.4 1894,1015.4"/>
<polyline class="L" stroke="#C306B0" points="1894.3,1177 1910,1177"/>
<polyline class="L D" stroke="#C306B0" points="310,1162.4 326,1165.6 342,1165.6 358,1163.6 374,1163.6 390,1137.6 646,1137.6 662,1151.5 806,1151.5 822,1152.1 982,1152.1 998,1184 1046,1184 1062,1188.7 1110,1188.7 1126,1161.8 1190,1161.8 1206,1177.9 1590,1177.9 1606,1173.7 1718,1173.7 1734,1177 1894,1177"/>
<polyline class="L D" stroke="#F3BC09" points="310,1037.3 374,1037.3"/>
<polyline class="L D" stroke="#F3BC09" stroke-dashoffset="30.3" points="374,1037.3 390,1033.7 646,1033.7"/>
<polyline class="L D" stroke="#F3BC09" stroke-dashoffset="33.3" points="646,995.7 662,985.6 806,985.6"/>
<polyline class="L D" stroke="#F3BC09" stroke-dashoffset="30.5" points="806,985.6 822,985.9 982,985.9"/>
<polyline class="L D" stroke="#F3BC09" stroke-dashoffset="8.1" points="982,985.9 998,996"/>
<polyline class="L D" stroke="#F3BC09" stroke-dashoffset="15.4" points="822,1022.4 982,1022.4"/>
<polyline class="L D" stroke="#F3BC09" stroke-dashoffset="2.5" points="982,985.9 998,972.4 1046,972.4"/>
<polyline class="L D" stroke="#F3BC09" stroke-dashoffset="7.5" points="1046,972.4 1062,985.3"/>
<polyline class="L D" stroke="#F3BC09" stroke-dashoffset="4.2" points="1046,996 1062,985.3 1110,985.3"/>
<polyline class="L D" stroke="#F3BC09" stroke-dashoffset="1.9" points="1110,985.3 1126,982.3 1190,982.3"/>
<polyline class="L D" stroke="#F3BC09" stroke-dashoffset="13.2" points="1190,982.3 1206,983.1 1590,983.1"/>
<polyline class="L D" stroke="#F3BC09" stroke-dashoffset="13.7" points="1590,983.1 1606,995.7"/>
<polyline class="L D" stroke="#F3BC09" points="310,995.5 374,995.5"/>
<polyline class="L D" stroke="#F3BC09" stroke-dashoffset="31.4" points="374,995.5 390,995.7 646,995.7"/>
<polyline class="L D" stroke="#F3BC09" stroke-dashoffset="4.6" points="646,995.7 662,996 806,996"/>
<polyline class="L D" stroke="#F3BC09" stroke-dashoffset="30.2" points="806,996 822,995.7 982,995.7"/>
<polyline class="L D" stroke="#F3BC09" stroke-dashoffset="8.1" points="982,995.7 998,996 1046,996"/>
<polyline class="L D" stroke="#F3BC09" stroke-dashoffset="4" points="1046,996 1062,995.7 1110,995.7"/>
<polyline class="L D" stroke="#F3BC09" stroke-dashoffset="9.6" points="1110,995.7 1126,995.4 1590,995.4"/>
<polyline class="L D" stroke="#F3BC09" stroke-dashoffset="13.7" points="1590,995.4 1606,995.7 1718,995.7"/>
<polyline class="L" stroke="#F3BC09" points="1894.3,995.5 1910,995.5"/>
<polyline class="L D" stroke="#F3BC09" stroke-dashoffset="2.6" points="1718,995.7 1734,995.5 1894,995.5"/>
<polyline class="L D" stroke="#F3BC09" points="310,1005.6 374,1005.6"/>
<polyline class="L D" stroke="#F3BC09" stroke-dashoffset="0.6" points="374,1005.6 390,1006.3 806,1006.3"/>
<polyline class="L D" stroke="#F3BC09" stroke-dashoffset="32.9" points="806,1006.3 822,1006.4 982,1006.4"/>
<polyline class="L D" stroke="#F3BC09" stroke-dashoffset="6.6" points="982,1006.4 998,1006.8 1190,1006.8"/>
<polyline class="L D" stroke="#F3BC09" stroke-dashoffset="16" points="1190,1006.8 1206,1006.9 1590,1006.9"/>
<polyline class="L D" stroke="#F3BC09" stroke-dashoffset="16.5" points="1590,1006.9 1606,1007.1 1718,1007.1"/>
<polyline class="L" stroke="#F3BC09" points="1894.3,1006.4 1910,1006.4"/>
<polyline class="L D" stroke="#F3BC09" stroke-dashoffset="16.7" points="1718,1007.1 1734,1006.4 1894,1006.4"/>
<polyline class="L D" stroke="#F3BC09" points="310,383.6 326,423 342,423 358,434 374,434 390,995.7"/>
<polyline class="L D" stroke="#F3BC09" points="310,904 326,928.4 342,928.4 358,926.5 374,926.5 390,1006.3"/>
<polyline class="L D" stroke="#000000" stroke-dashoffset="32.2" points="374,1026.1 390,1025.4 646,1025.4"/>
</g>
<line class="ax" x1="246" y1="1020" x2="1974" y2="1020"/>
<line class="ax D" x1="382" y1="1794" x2="382" y2="246"/>
<rect class="ax" x="246" y="246" width="1728" height="1548"/>
<path class="ax" d="M246,1737.9 V301.9"/>
<line class="ax" x1="246" y1="301.9" x2="216" y2="301.9"/>
<text transform="translate(174,302.7) rotate(-90)" text-anchor="middle">2.15</text>
<line class="ax" x1="246" y1="660.9" x2="216" y2="660.9"/>
<text transform="translate(174,661.7) rotate(-90)" text-anchor="middle">1.075</text>
<line class="ax" x1="246" y1="1020" x2="216" y2="1020"/>
<text transform="translate(174,1020.8) rotate(-90)" text-anchor="middle">0</text>
<line class="ax" x1="246" y1="1379" x2="216" y2="1379"/>
<text transform="translate(174,1379.8) rotate(-90)" text-anchor="middle">-1.075</text>
<line class="ax" x1="246" y1="1737.9" x2="216" y2="1737.9"/>
<text transform="translate(174,1738.7) rotate(-90)" text-anchor="middle">-2.15</text>
<line class="ax" x1="310" y1="1794" x2="1910" y2="1794"/>
<line class="ax" x1="310" y1="1794" x2="310" y2="1824"/>
<text x="310" y="1902" text-anchor="middle">0.000</text>
<line class="ax" x1="630" y1="1794" x2="630" y2="1824"/>
<text x="630" y="1902" text-anchor="middle">0.001</text>
<line class="ax" x1="950" y1="1794" x2="950" y2="1824"/>
<text x="950" y="1902" text-anchor="middle">0.002</text>
<line class="ax" x1="1590" y1="1794" x2="1590" y2="1824"/>
<text x="1590" y="1902" text-anchor="middle">0.004</text>
<line class="ax" x1="1910" y1="1794" x2="1910" y2="1824"/>
<text x="1910" y="1902" text-anchor="middle">0.005</text>
<text transform="translate(54,1021.2) rotate(-90)" text-anchor="middle">Point estimates and confidence intervals</text>
<path d="M347.24,1797.85 C346.93,1793.81 348.80,1790.83 351.59,1790.71 C354.07,1790.71 355.63,1792.57 356.56,1795.68 L364.94,1820.21 C365.88,1822.69 367.12,1823.00 368.05,1822.69 C369.91,1822.38 371.16,1820.83 371.47,1818.97 L372.27,1818.97 C372.40,1823.00 370.53,1826.11 367.74,1826.11 C365.25,1826.11 364.01,1824.56 363.08,1821.76 L358.61,1808.41 L351.59,1825.80 L346.00,1825.80 L356.87,1801.27 L355.32,1796.92 C354.39,1794.74 353.14,1793.81 351.59,1794.12 C349.73,1794.31 348.48,1795.99 347.55,1797.85 Z" fill="#000"/>
<text x="373" y="1834.7" style="font-size:35px">gic</text>
<path d="M1098.14,1993.85 C1097.83,1989.81 1099.70,1986.83 1102.49,1986.71 C1104.97,1986.71 1106.53,1988.57 1107.46,1991.68 L1115.84,2016.21 C1116.78,2018.69 1118.02,2019.00 1118.95,2018.69 C1120.81,2018.38 1122.06,2016.83 1122.37,2014.97 L1123.17,2014.97 C1123.30,2019.00 1121.43,2022.11 1118.64,2022.11 C1116.15,2022.11 1114.91,2020.56 1113.98,2017.76 L1109.51,2004.41 L1102.49,2021.80 L1096.90,2021.80 L1107.77,1997.27 L1106.22,1992.92 C1105.29,1990.74 1104.04,1989.81 1102.49,1990.12 C1100.63,1990.31 1099.38,1991.99 1098.45,1993.85 Z" fill="#000"/>
<text transform="translate(234,648) rotate(-90)" text-anchor="middle">V22</text>
<text transform="translate(234,989) rotate(-90)" text-anchor="middle">V3</text>
<text transform="translate(234,996) rotate(-90)" text-anchor="middle">V1</text>
<text transform="translate(234,1003) rotate(-90)" text-anchor="middle">V2</text>
<text transform="translate(234,1010) rotate(-90)" text-anchor="middle">V4</text>
<text transform="translate(234,1034) rotate(-90)" text-anchor="middle">V5</text>
<text transform="translate(234,1037.5) rotate(-90)" text-anchor="middle">V6</text>
<text transform="translate(234,1039.2) rotate(-90)" text-anchor="middle">V8</text>
<text transform="translate(234,1004) rotate(-90)" text-anchor="middle">V11</text>
<text transform="translate(234,1007) rotate(-90)" text-anchor="middle">V13</text>
<text transform="translate(234,1010) rotate(-90)" text-anchor="middle">V15</text>
<text transform="translate(234,1013) rotate(-90)" text-anchor="middle">V16</text>
<text transform="translate(234,1015) rotate(-90)" text-anchor="middle">V17</text>
<text transform="translate(234,1017) rotate(-90)" text-anchor="middle">V18</text>
<text transform="translate(234,1019) rotate(-90)" text-anchor="middle">V19</text>
<text transform="translate(234,1020.5) rotate(-90)" text-anchor="middle">V21</text>
<text transform="translate(234,1022) rotate(-90)" text-anchor="middle">V24</text>
<text transform="translate(234,1023) rotate(-90)" text-anchor="middle">V25</text>
<text transform="translate(234,1023.8) rotate(-90)" text-anchor="middle">V26</text>
<text transform="translate(234,1024.4) rotate(-90)" text-anchor="middle">V27</text>
<text transform="translate(234,1025) rotate(-90)" text-anchor="middle">V28</text>
<text transform="translate(234,1025.5) rotate(-90)" text-anchor="middle">V29</text>
<text transform="translate(234,1025.2) rotate(-90)" text-anchor="middle">V30</text>
<text transform="translate(234,1024.7) rotate(-90)" text-anchor="middle">V31</text>
<text transform="translate(234,1021) rotate(-90)" text-anchor="middle">V32</text>
<text transform="translate(234,1018) rotate(-90)" text-anchor="middle">V33</text>
<text transform="translate(234,987) rotate(-90)" text-anchor="middle">V34</text>
<text transform="translate(234,1067.7) rotate(-90)" text-anchor="middle">V20</text>
<text class="bl" transform="translate(234,688) rotate(-90)" text-anchor="middle">V7</text>
<text class="bl" transform="translate(234,750) rotate(-90)" text-anchor="middle">V12</text>
<text class="bl" transform="translate(234,838) rotate(-90)" text-anchor="middle">V10</text>
<text class="bl" transform="translate(234,1108.5) rotate(-90)" text-anchor="middle">V14</text>
<text class="bl" transform="translate(234,1262) rotate(-90)" text-anchor="middle">V9</text>
<text class="bl" transform="translate(234,1514.5) rotate(-90)" text-anchor="middle">V23</text>
</svg>
</body></html>
